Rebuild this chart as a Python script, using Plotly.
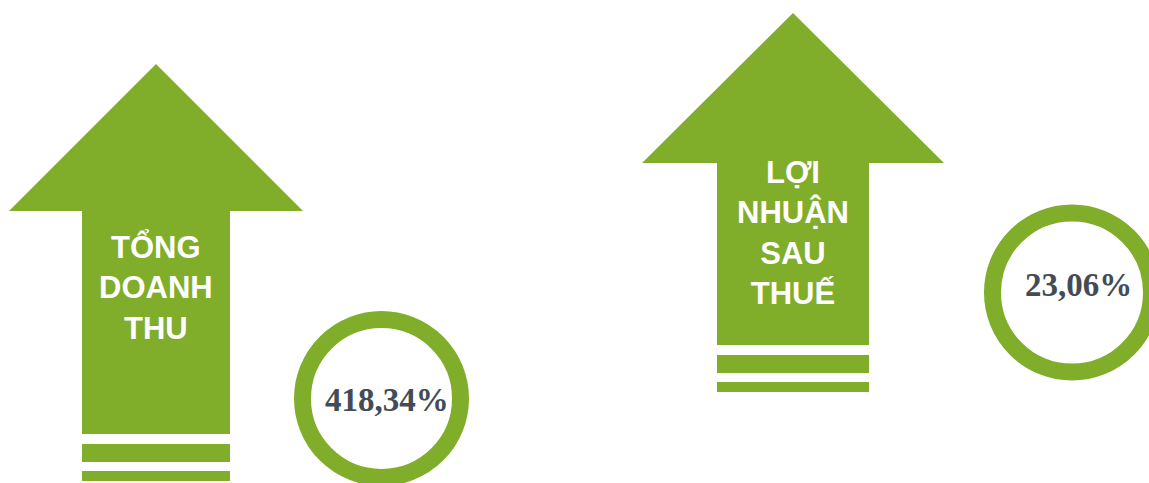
import plotly.graph_objects as go

# ---- data ----
labels = ["TỔNG<br>DOANH<br>THU", "LỢI<br>NHUẬN<br>SAU<br>THUẾ"]
growth_pct = [418.34, 23.06]

# ---- layout geometry (pixels, y downwards) ----
W, H = 1149, 483
GREEN = "#80AD2A"
TEXT_DARK = "#434C54"

arrow_cx = [156, 793]
arrow_tip = [64, 13]
head_base = [211, 163]
head_half = [147, 151]
shaft_half = [74, 76]
shaft_bottom = [434, 345]
bar_offsets = [(10, 28), (37, 47)]
label_cy = [287, 233]

circle_cx = [381.5, 1072]
circle_cy = [398.5, 292.5]
circle_r = [87.5, 88]
ring_w = 17
value_pos = [(387, 400), (1078, 285)]

fig = go.Figure()
shapes = []
annotations = []

for i in range(len(labels)):
    cx = arrow_cx[i]
    xs = [cx, cx + head_half[i], cx + shaft_half[i], cx + shaft_half[i],
          cx - shaft_half[i], cx - shaft_half[i], cx - head_half[i], cx]
    ys = [arrow_tip[i], head_base[i], head_base[i], shaft_bottom[i],
          shaft_bottom[i], head_base[i], head_base[i], arrow_tip[i]]
    fig.add_trace(go.Scatter(x=xs, y=ys, mode="lines", fill="toself",
                             fillcolor=GREEN, line=dict(width=0, color=GREEN),
                             hoverinfo="skip", showlegend=False))
    for (a, b) in bar_offsets:
        shapes.append(dict(type="rect", xref="x", yref="y",
                           x0=cx - shaft_half[i], x1=cx + shaft_half[i],
                           y0=shaft_bottom[i] + a, y1=shaft_bottom[i] + b,
                           fillcolor=GREEN, line=dict(width=0)))
    annotations.append(dict(x=cx, y=label_cy[i], xref="x", yref="y",
                            text=labels[i], showarrow=False,
                            xanchor="center", yanchor="middle",
                            font=dict(family="Liberation Sans", size=31,
                                      color="white", weight="bold")))
    r = circle_r[i] - ring_w / 2
    shapes.append(dict(type="circle", xref="x", yref="y",
                       x0=circle_cx[i] - r, x1=circle_cx[i] + r,
                       y0=circle_cy[i] - r, y1=circle_cy[i] + r,
                       fillcolor="white", line=dict(color=GREEN, width=ring_w)))
    txt = f"{growth_pct[i]:.2f}".replace(".", ",") + "%"
    annotations.append(dict(x=value_pos[i][0], y=value_pos[i][1], xref="x", yref="y",
                            text=txt, showarrow=False,
                            xanchor="center", yanchor="middle",
                            font=dict(family="Liberation Serif", size=33,
                                      color=TEXT_DARK, weight="bold")))

fig.update_layout(
    width=W, height=H,
    margin=dict(l=0, r=0, t=0, b=0),
    paper_bgcolor="white", plot_bgcolor="white",
    xaxis=dict(range=[0, W], visible=False, fixedrange=True),
    yaxis=dict(range=[H, 0], visible=False, fixedrange=True),
    shapes=shapes, annotations=annotations, showlegend=False,
)

fig.write_html("out.html", config={"displayModeBar": False},
               post_script="document.body.style.margin='0';"
                           "document.body.style.overflow='hidden';")
